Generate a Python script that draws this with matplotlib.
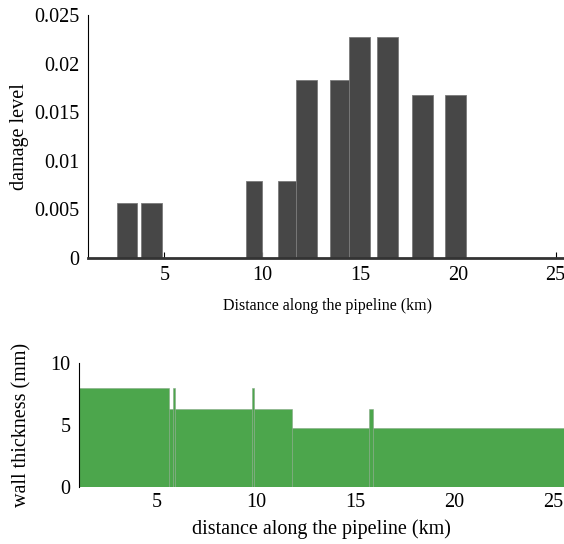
import matplotlib
matplotlib.use("Agg")
import matplotlib.pyplot as plt
import numpy as np

# damage level per pipeline segment (km)
dmg_start = [2.59, 3.82, 9.15, 10.79, 11.72, 13.46, 14.42, 15.87, 17.67, 19.36]
dmg_end = [3.62, 4.90, 9.97, 11.72, 12.78, 14.42, 15.51, 16.93, 18.73, 20.42]
dmg_level = [0.0057, 0.0057, 0.0079, 0.0079, 0.0183, 0.0183, 0.0227, 0.0227, 0.0168, 0.0168]

# wall thickness along the pipeline (km, mm)
wall_start = [1.0, 5.59, 5.79, 5.89, 9.80, 9.87, 11.79, 15.69, 15.88]
wall_end = [5.59, 5.79, 5.89, 9.80, 9.87, 11.79, 15.69, 15.88, 25.6]
wall_mm = [8.0, 6.35, 8.0, 6.35, 8.0, 6.35, 4.8, 6.35, 4.8]

x_ticks = [5, 10, 15, 20, 25]
dmg_ticks = [0, 0.005, 0.01, 0.015, 0.02, 0.025]
dmg_ticklabels = ["0", "0.005", "0.01", "0.015", "0.02", "0.025"]
wall_ticks = [0, 5, 10]

plt.rcParams["font.family"] = ["Liberation Serif", "DejaVu Serif"]

fig = plt.figure(figsize=(5.64, 5.44), dpi=100)

# top: damage level
ax1 = fig.add_axes([0.156, 0.5257, 0.85, 0.4467])
w = np.array(dmg_end) - np.array(dmg_start)
ax1.bar(dmg_start, dmg_level, width=w, align="edge", color="#474747",
        edgecolor="#7a7a7a", linewidth=0.6, zorder=2)
ax1.set_xlim(1.1, 25.6)
ax1.set_ylim(0, 0.025)
ax1.set_xticks(x_ticks)
ax1.set_yticks(dmg_ticks)
ax1.set_yticklabels(dmg_ticklabels)
ax1.set_axisbelow(True)
ax1.tick_params(axis="x", direction="in", length=4, width=0.8, labelsize=14.5, pad=6)
ax1.tick_params(axis="y", length=0, labelsize=14.5, pad=6)
ax1.set_yticks([0.025], minor=True)
ax1.tick_params(axis="y", which="minor", direction="in", length=4, width=0.8)
for s in ["top", "right"]:
    ax1.spines[s].set_visible(False)
ax1.spines["left"].set_linewidth(0.8)
ax1.spines["bottom"].set_color("#333333")
ax1.spines["bottom"].set_linewidth(2)
ax1.spines["bottom"].set_zorder(3)
ax1.set_xlabel("Distance along the pipeline (km)", fontsize=11.5, labelpad=9)
ax1.set_ylabel("damage level", fontsize=14.5)
ax1.yaxis.set_label_coords(-0.124, 0.5)

# bottom: wall thickness
ax2 = fig.add_axes([0.140, 0.1042, 0.86, 0.228])
w2 = np.array(wall_end) - np.array(wall_start)
ax2.bar(wall_start, wall_mm, width=w2, align="edge", color="#4ca64c",
        edgecolor="#86a886", linewidth=0.4, zorder=2)
ax2.set_xlim(1.05, 25.55)
ax2.set_ylim(0, 10)
ax2.set_xticks(x_ticks)
ax2.set_yticks(wall_ticks)
ax2.tick_params(axis="x", length=0, labelsize=14.5, pad=4)
ax2.tick_params(axis="y", length=0, labelsize=14.5, pad=6)
ax2.set_yticks([10], minor=True)
ax2.tick_params(axis="y", which="minor", direction="in", length=4, width=0.8)
for s in ["top", "right", "bottom"]:
    ax2.spines[s].set_visible(False)
ax2.spines["left"].set_linewidth(0.8)
ax2.set_xlabel("distance along the pipeline (km)", fontsize=14.5, labelpad=5)
ax2.set_ylabel("wall thickness (mm)", fontsize=14.5)
ax2.yaxis.set_label_coords(-0.098, 0.5)

fig.savefig("out.png", dpi=100)
